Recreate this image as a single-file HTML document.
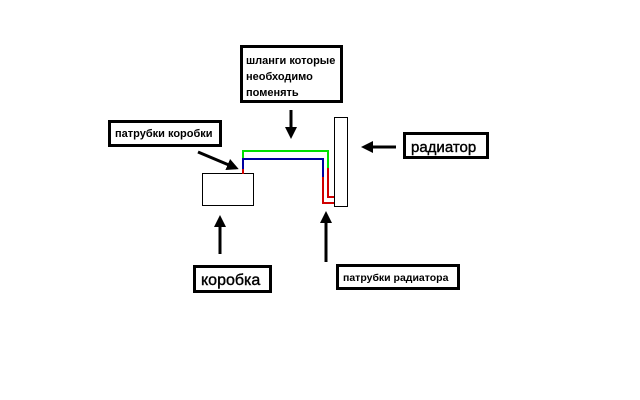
<!DOCTYPE html>
<html><head><meta charset="utf-8"><style>
html,body{margin:0;padding:0;background:#fff;width:640px;height:400px;overflow:hidden}
.b{position:absolute;border:3px solid #000;box-sizing:border-box;background:#fff;font-family:"Liberation Sans","DejaVu Sans",sans-serif;font-weight:bold;color:#000}
</style></head><body>
<div class="b" style="left:240px;top:45px;width:103px;height:58px;font-size:11px;line-height:16px;padding:5px 0 0 3px">шланги которые<br>необходимо<br>поменять</div>
<div class="b" style="left:108px;top:120px;width:114px;height:27px;font-size:11px;padding:5px 0 0 4px">патрубки коробки</div>
<div class="b" style="left:403px;top:132px;width:86px;height:27px;font-size:15px;padding:4px 0 0 5px;font-weight:normal;-webkit-text-stroke:0.4px #000">радиатор</div>
<div class="b" style="left:193px;top:265px;width:79px;height:28px;font-size:16px;padding:4px 0 0 5px;font-weight:normal;-webkit-text-stroke:0.4px #000">коробка</div>
<div class="b" style="left:336px;top:264px;width:124px;height:26px;font-size:10.5px;padding:5px 0 0 4px">патрубки радиатора</div>
<svg width="640" height="400" style="position:absolute;left:0;top:0">
<defs><marker id="a" markerWidth="4" markerHeight="4" refX="3" refY="2" orient="auto"><path d="M0,0 L4,2 L0,4 Z" fill="#000"/></marker></defs>
<rect x="202.5" y="173.5" width="51" height="32" fill="#fff" stroke="#000"/>
<rect x="334.5" y="117.5" width="13" height="89" fill="#fff" stroke="#000"/>
<g fill="none" stroke-width="2">
<polyline points="243,160 243,151 328,151 328,168" stroke="#00e000"/>
<polyline points="243,170 243,159 323,159 323,177" stroke="#0000a0"/>
<polyline points="243,169 243,174" stroke="#d00000"/>
<polyline points="328,168 328,197 334,197" stroke="#d00000"/>
<polyline points="323,177 323,203 334,203" stroke="#d00000"/>
</g>
<g stroke="#000" stroke-width="3" marker-end="url(#a)">
<line x1="291" y1="110" x2="291" y2="136"/>
<line x1="198" y1="152" x2="236" y2="168"/>
<line x1="396" y1="147" x2="364" y2="147"/>
<line x1="220" y1="254" x2="220" y2="218"/>
<line x1="326" y1="262" x2="326" y2="214"/>
</g>
</svg>
</body></html>
